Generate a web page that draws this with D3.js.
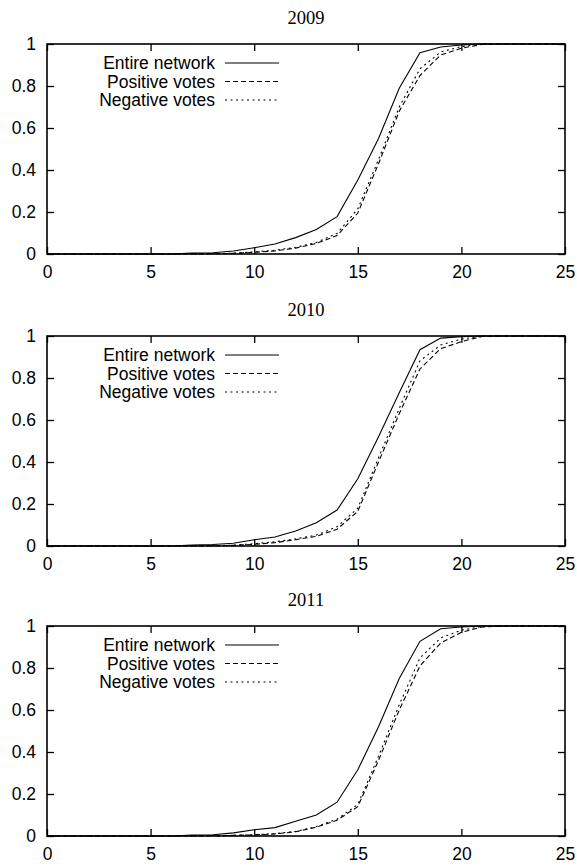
<!DOCTYPE html>
<html lang="en">
  <head>
    <meta charset="UTF-8" />
    <title>Cumulative distribution by year</title>
    <script src="https://d3js.org/d3.v7.min.js"></script>
    <style>
      body { margin: 0; background: #fff; }
      svg text { font-family: "Liberation Sans", Arial, sans-serif; }
    </style>
  </head>

  <body>
    <svg width="577" height="867"></svg>

    <script>
      // x values shared by all panels
      const xs = d3.range(0, 26);
      const years = ["2009", "2010", "2011"];
      const seriesNames = ["Entire network", "Positive votes", "Negative votes"];

      // values, x = 0..25
      const entire2009   = [0,0,0,0,0,0,0,0.004,0.006,0.014,0.03,0.048,0.078,0.117,0.178,0.352,0.55,0.789,0.958,0.986,0.995,1,1,1,1,1];
      const positive2009 = [0,0,0,0,0,0,0,0,0.001,0.003,0.008,0.015,0.028,0.05,0.088,0.195,0.43,0.68,0.85,0.948,0.98,0.998,1,1,1,1];
      const negative2009 = [0,0,0,0,0,0,0,0,0.001,0.004,0.01,0.018,0.032,0.055,0.098,0.215,0.45,0.7,0.882,0.962,0.988,1,1,1,1,1];

      const entire2010   = [0,0,0,0,0,0,0,0.004,0.007,0.013,0.03,0.043,0.071,0.111,0.171,0.32,0.52,0.73,0.935,0.99,0.997,1,1,1,1,1];
      const positive2010 = [0,0,0,0,0,0,0,0,0.001,0.003,0.008,0.016,0.03,0.046,0.08,0.165,0.4,0.63,0.843,0.94,0.973,0.998,1,1,1,1];
      const negative2010 = [0,0,0,0,0,0,0,0,0.001,0.004,0.011,0.02,0.034,0.052,0.092,0.18,0.42,0.655,0.882,0.957,0.985,1,1,1,1,1];

      const entire2011   = [0,0,0,0,0,0,0,0.004,0.006,0.015,0.03,0.04,0.07,0.1,0.161,0.315,0.52,0.75,0.927,0.987,0.995,1,1,1,1,1];
      const positive2011 = [0,0,0,0,0,0,0,0,0.001,0.003,0.005,0.01,0.02,0.042,0.075,0.14,0.36,0.6,0.81,0.919,0.97,0.995,1,1,1,1];
      const negative2011 = [0,0,0,0,0,0,0,0,0.001,0.003,0.006,0.011,0.022,0.045,0.08,0.15,0.38,0.625,0.848,0.943,0.98,0.998,1,1,1,1];

      const panelData = [
        [entire2009, positive2009, negative2009],
        [entire2010, positive2010, negative2010],
        [entire2011, positive2011, negative2011],
      ];

      const xTicks = [0, 5, 10, 15, 20, 25];
      const yTicks = [0, 0.2, 0.4, 0.6, 0.8, 1];
      const dashes = [null, "5,3", "2,3.5"];

      const svg = d3.select("svg");
      const left = 47, right = 565;
      const tops = [44, 336, 626];
      const plotH = 210;
      const tickLen = 7;

      const x = d3.scaleLinear().domain([0, 25]).range([left, right]);

      tops.forEach(function (top, p) {
        const y = d3.scaleLinear().domain([0, 1]).range([top + plotH, top]);
        const g = svg.append("g");

        // title
        g.append("text")
          .attr("x", (left + right) / 2)
          .attr("y", top - 20)
          .attr("text-anchor", "middle")
          .style("font-family", "'Liberation Serif', 'Times New Roman', serif")
          .style("font-size", "18.5px")
          .text(years[p]);

        // curves
        const line = d3.line()
          .x(function (d, i) { return x(xs[i]); })
          .y(function (d) { return y(d); });

        panelData[p].forEach(function (vals, s) {
          g.append("path")
            .attr("d", line(vals))
            .attr("fill", "none")
            .attr("stroke", "#000")
            .attr("stroke-width", 1.1)
            .attr("stroke-dasharray", dashes[s]);
        });

        // axes with mirrored inward ticks
        const axB = d3.axisBottom(x).tickValues(xTicks).tickSize(-tickLen).tickPadding(12).tickFormat(d3.format("d"));
        const axT = d3.axisTop(x).tickValues(xTicks).tickSize(-tickLen).tickFormat("");
        const axL = d3.axisLeft(y).tickValues(yTicks).tickSize(-tickLen).tickPadding(11).tickFormat(function (d) { return d === 0 || d === 1 ? d : d.toFixed(1); });
        const axR = d3.axisRight(y).tickValues(yTicks).tickSize(-tickLen).tickFormat("");

        [
          [axB, "translate(0," + (top + plotH) + ")"],
          [axT, "translate(0," + top + ")"],
          [axL, "translate(" + left + ",0)"],
          [axR, "translate(" + right + ",0)"],
        ].forEach(function (a) {
          const ag = g.append("g").attr("transform", a[1]).call(a[0]);
          ag.select(".domain").remove();
          ag.selectAll("line").attr("stroke", "#000").attr("stroke-width", 1.3);
          ag.selectAll("text").style("font-size", "17.5px").attr("fill", "#000");
        });

        // frame
        g.append("rect")
          .attr("x", left)
          .attr("y", top)
          .attr("width", right - left)
          .attr("height", plotH)
          .attr("fill", "none")
          .attr("stroke", "#000")
          .attr("stroke-width", 1.6);

        // legend
        seriesNames.forEach(function (name, s) {
          const ly = top + 19 + s * 18.5;
          g.append("text")
            .attr("x", 215)
            .attr("y", ly)
            .attr("dy", "0.35em")
            .attr("text-anchor", "end")
            .style("font-size", "17.5px")
            .text(name);
          g.append("line")
            .attr("x1", 225)
            .attr("x2", 279)
            .attr("y1", ly)
            .attr("y2", ly)
            .attr("stroke", "#000")
            .attr("stroke-width", 1.1)
            .attr("stroke-dasharray", dashes[s]);
        });
      });
    </script>
  </body>
</html>
